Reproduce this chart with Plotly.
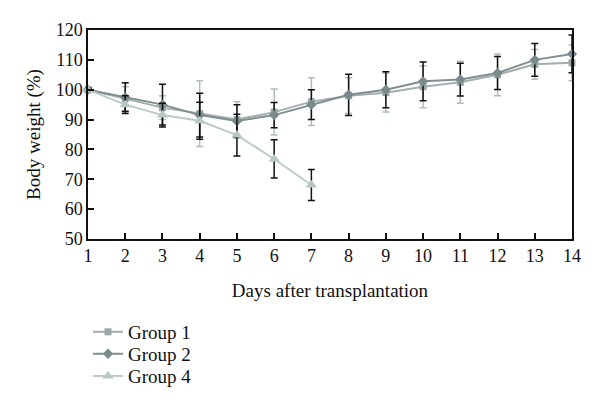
import plotly.graph_objects as go

days = list(range(1, 15))
days_g4 = list(range(1, 8))

group1 = [100, 97, 94, 92, 90, 92.5, 96, 98, 99, 101, 102.5, 105, 108.5, 109]
group1_err = [0.5, 4, 4, 11, 6, 7.7, 8, 6, 6.5, 7, 7, 7, 5, 6]

group2 = [100, 97.5, 95, 91.5, 89.5, 91.5, 95, 98.3, 100, 102.8, 103.4, 105.6, 110, 112]
group2_err = [0.5, 4.8, 6.8, 7.3, 5.5, 4.2, 5, 6.9, 6, 6.5, 5.5, 5.5, 5.5, 6.3]

group4 = [100, 95, 91.5, 89.6, 84.8, 76.8, 68.1]
group4_err = [0.5, 3, 4, 6.2, 7, 6.4, 5.2]

font_family = "Liberation Serif, Times New Roman, DejaVu Serif, serif"

fig = go.Figure()

fig.add_trace(go.Scatter(
    x=days, y=group1, name="Group 1", mode="lines+markers", legend="legend",
    line=dict(color="#a3aeae", width=2),
    marker=dict(symbol="square", size=7, color="#9aa6a6"),
    error_y=dict(type="data", array=group1_err, color="#b3bcbc", thickness=1.5, width=3.5),
    cliponaxis=False,
))
fig.add_trace(go.Scatter(
    x=days, y=group2, name="Group 2", mode="lines+markers", legend="legend2",
    line=dict(color="#7f8f91", width=2),
    marker=dict(symbol="diamond", size=8, color="#7a8a8c"),
    error_y=dict(type="data", array=group2_err, color="#111111", thickness=1.5, width=3.5),
    cliponaxis=False,
))
fig.add_trace(go.Scatter(
    x=days_g4, y=group4, name="Group 4", mode="lines+markers", legend="legend3",
    line=dict(color="#bccac8", width=2),
    marker=dict(symbol="triangle-up", size=10, color="#b8c6c4"),
    error_y=dict(type="data", array=group4_err, color="#111111", thickness=1.5, width=3.5),
    cliponaxis=False,
))

legend_common = dict(
    x=0, xanchor="left", yanchor="top",
    font=dict(family=font_family, size=19, color="#111111"),
    itemwidth=30, bgcolor="rgba(0,0,0,0)",
)

fig.update_layout(
    width=592, height=403,
    margin=dict(l=80, r=28, t=22, b=172, autoexpand=False),
    paper_bgcolor="white", plot_bgcolor="white",
    font=dict(family=font_family, size=18, color="#111111"),
    showlegend=True,
    legend=dict(y=-0.354, **legend_common),
    legend2=dict(y=-0.459, **legend_common),
    legend3=dict(y=-0.565, **legend_common),
    xaxis=dict(
        range=[1, 14], tickmode="array", tickvals=days,
        showgrid=False, zeroline=False, automargin=False,
        showline=True, linecolor="#111111", linewidth=1.5, mirror=True,
        ticks="inside", ticklen=6, tickwidth=1.5, tickcolor="#111111",
        tickfont=dict(size=18),
        title=dict(text="Days after transplantation", font=dict(size=19), standoff=18),
    ),
    yaxis=dict(
        range=[50, 120], tickmode="array", tickvals=[50, 60, 70, 80, 90, 100, 110, 120],
        showgrid=False, zeroline=False, automargin=False,
        showline=True, linecolor="#111111", linewidth=1.5, mirror=True,
        ticks="inside", ticklen=6, tickwidth=1.5, tickcolor="#111111",
        tickfont=dict(size=18),
        title=dict(text="Body weight (%)", font=dict(size=19), standoff=10),
    ),
)

fig.write_html("out.html")
